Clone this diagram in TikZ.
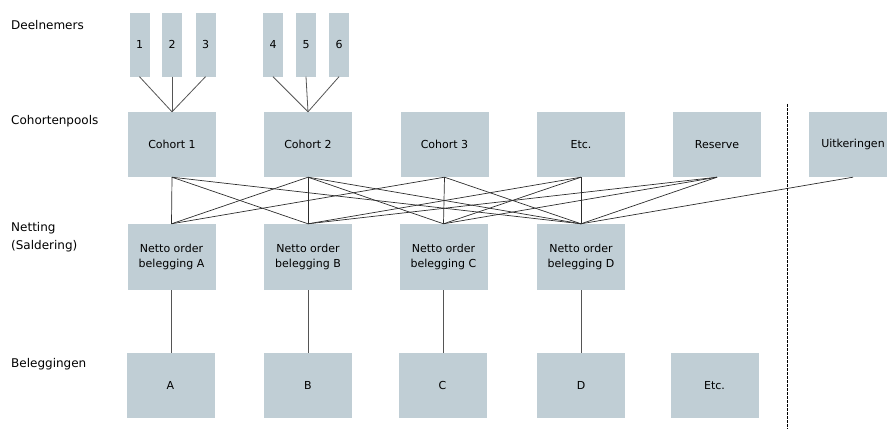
\documentclass[tikz,border=0pt]{standalone}
\usepackage{fontspec}
\setmainfont{DejaVu Sans}
\definecolor{boxfill}{RGB}{192,206,213}
\definecolor{linkcol}{RGB}{45,45,45}
\definecolor{vcol}{RGB}{85,85,85}
\begin{document}
\begin{tikzpicture}[x=1pt,y=-1pt,
  box/.style={fill=boxfill, draw=none, minimum width=88pt, minimum height=65pt,
    inner sep=0pt, align=center, font=\fontsize{11}{15.3}\selectfont},
  pbox/.style={fill=boxfill, draw=none, minimum width=20pt, minimum height=64pt,
    inner sep=0pt, font=\fontsize{11}{13}\selectfont},
  lbl/.style={anchor=base west, inner sep=0pt, align=left,
    font=\fontsize{12}{18}\selectfont},
  link/.style={draw=linkcol, line width=0.7pt},
  plink/.style={draw=vcol, line width=0.8pt},
  vlink/.style={draw=vcol, line width=0.9pt},
  sep/.style={draw=black, line width=0.8pt, dash pattern=on 2.5pt off 1.5pt}
]
\useasboundingbox (0,0) rectangle (887,429);

% row labels
\node[lbl] (lDeel) at (11,29) {Deelnemers};
\node[lbl] (lCoh) at (11,124) {Cohortenpools};
\node[lbl] (lNet) at (11,249) {Netting\\(Saldering)};
\node[lbl] (lBel) at (11,367) {Beleggingen};

% participants
\node[pbox] (p1) at (139.5,44.5) {1};
\node[pbox] (p2) at (172,44.5) {2};
\node[pbox] (p3) at (205.5,44.5) {3};
\node[pbox] (p4) at (273,44.5) {4};
\node[pbox] (p5) at (306,44.5) {5};
\node[pbox] (p6) at (339,44.5) {6};

% cohort pools
\node[box] (c1) at (172,144.5) {Cohort 1};
\node[box] (c2) at (308,144.5) {Cohort 2};
\node[box] (c3) at (444.5,144.5) {Cohort 3};
\node[box] (c4) at (581,144.5) {Etc.};
\node[box] (c5) at (717,144.5) {Reserve};
\node[box] (c6) at (853,144.5) {Uitkeringen};

% netting
\node[box, minimum height=66pt] (nA) at (171.5,257) {Netto order\\belegging A};
\node[box, minimum height=66pt] (nB) at (308,257) {Netto order\\belegging B};
\node[box, minimum height=66pt] (nC) at (443.5,257) {Netto order\\belegging C};
\node[box, minimum height=66pt] (nD) at (581,257) {Netto order\\belegging D};

% investments
\node[box] (bA) at (170.5,385.5) {A};
\node[box] (bB) at (308,385.5) {B};
\node[box] (bC) at (442.5,385.5) {C};
\node[box] (bD) at (581,385.5) {D};
\node[box] (bE) at (714.5,385.5) {Etc.};

% participants to cohorts
\foreach \p in {p1,p2,p3} \draw[plink] (\p.south) -- (c1.north);
\foreach \p in {p4,p5,p6} \draw[plink] (\p.south) -- (c2.north);

% cohorts to netting
\foreach \n in {nA,nB,nD} \draw[link] (c1.south) -- (\n.north);
\foreach \n in {nA,nB,nC,nD} \draw[link] (c2.south) -- (\n.north);
\foreach \n in {nA,nC,nD} \draw[link] (c3.south) -- (\n.north);
\foreach \n in {nB,nC,nD} \draw[link] (c4.south) -- (\n.north);
\foreach \n in {nB,nC,nD} \draw[link] (c5.south) -- (\n.north);
\draw[link] (c6.south) -- (nD.north);

% netting to investments
\draw[vlink] (nA.south) -- (nA.south |- bA.north);
\draw[vlink] (nB.south) -- (bB.north);
\draw[vlink] (nC.south) -- (nC.south |- bC.north);
\draw[vlink] (nD.south) -- (bD.north);

% separator
\coordinate (sTop) at (787,104);
\coordinate (sBot) at (787,429);
\draw[sep] (sTop) -- (sBot);
\end{tikzpicture}
\end{document}
